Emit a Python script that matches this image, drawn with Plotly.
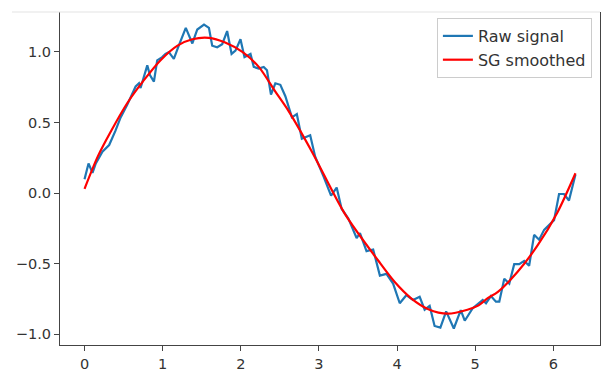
import plotly.graph_objects as go

# Raw signal
raw_x = [0.0, 0.051, 0.102, 0.144, 0.229, 0.315, 0.395, 0.462, 0.548, 0.654, 0.697, 0.717,
         0.803, 0.837, 0.888, 0.930, 0.994, 1.036, 1.079, 1.143, 1.206, 1.296, 1.380, 1.443,
         1.529, 1.592, 1.634, 1.698, 1.762, 1.825, 1.882, 1.932, 1.996, 2.047, 2.124, 2.166,
         2.229, 2.293, 2.335, 2.386, 2.442, 2.506, 2.570, 2.654, 2.717, 2.781, 2.888, 2.952,
         3.057, 3.155, 3.227, 3.290, 3.376, 3.482, 3.525, 3.609, 3.694, 3.780, 3.864, 3.949,
         4.034, 4.118, 4.204, 4.289, 4.353, 4.417, 4.480, 4.554, 4.628, 4.726, 4.815, 4.866,
         4.968, 5.032, 5.096, 5.138, 5.201, 5.265, 5.308, 5.372, 5.436, 5.499, 5.563, 5.627,
         5.690, 5.754, 5.818, 5.882, 5.945, 6.009, 6.073, 6.136, 6.200, 6.283]
raw_y = [0.097, 0.21, 0.143, 0.21, 0.293, 0.34, 0.44, 0.536, 0.628, 0.755, 0.778, 0.744,
         0.905, 0.836, 0.79, 0.94, 0.963, 0.986, 0.998, 0.951, 1.044, 1.171, 1.06, 1.159,
         1.194, 1.171, 1.044, 1.033, 1.055, 1.148, 0.986, 1.009, 1.09, 0.963, 0.986, 0.894,
         0.882, 0.894, 0.87, 0.697, 0.778, 0.767, 0.686, 0.536, 0.559, 0.385, 0.409, 0.258,
         0.12, -0.019, 0.039, -0.111, -0.18, -0.319, -0.284, -0.412, -0.4, -0.585, -0.573, -0.642,
         -0.781, -0.724, -0.758, -0.735, -0.827, -0.8, -0.942, -0.954, -0.839, -0.96, -0.83, -0.905,
         -0.816, -0.785, -0.758, -0.781, -0.73, -0.77, -0.77, -0.608, -0.642, -0.504, -0.504, -0.481,
         -0.516, -0.296, -0.331, -0.261, -0.227, -0.192, -0.007, -0.007, -0.053, 0.132]

# Savitzky-Golay smoothed curve
sg_x = [0.0, 0.17, 0.34, 0.55, 0.76, 0.97, 1.19, 1.38, 1.59, 1.80, 2.02, 2.23, 2.44, 2.61,
        2.91, 3.33, 3.76, 3.97, 4.18, 4.40, 4.65, 4.90, 5.03, 5.16, 5.29, 5.54, 5.80, 6.05, 6.283]
sg_y = [0.03, 0.26, 0.44, 0.64, 0.80, 0.94, 1.045, 1.09, 1.10, 1.067, 1.0, 0.894, 0.72, 0.582,
        0.293, -0.146, -0.48, -0.631, -0.746, -0.823, -0.855, -0.827, -0.80, -0.745, -0.70,
        -0.56, -0.37, -0.14, 0.14]

x_ticks = [0, 1, 2, 3, 4, 5, 6]
y_ticks = [-1.0, -0.5, 0.0, 0.5, 1.0]
y_tick_text = ["\u22121.0", "\u22120.5", "0.0", "0.5", "1.0"]

fig = go.Figure()
fig.add_trace(go.Scatter(x=raw_x, y=raw_y, mode="lines", name="Raw signal",
                         line=dict(color="#1f77b4", width=2.2)))
fig.add_trace(go.Scatter(x=sg_x, y=sg_y, mode="lines", name="SG smoothed",
                         line=dict(color="#ff0000", width=2.2, shape="spline", smoothing=0.8)))

axis_font = dict(family="DejaVu Sans", size=14.5, color="#333333")
fig.update_layout(
    width=608, height=379,
    margin=dict(l=60, r=7, t=12, b=26),
    paper_bgcolor="white", plot_bgcolor="white",
    font=dict(family="DejaVu Sans", color="#333333"),
    showlegend=True,
    legend=dict(x=0.985, y=0.982, xanchor="right", yanchor="top",
                bgcolor="white", bordercolor="#cccccc", borderwidth=1,
                font=dict(family="DejaVu Sans", size=16, color="#333333"),
                tracegroupgap=0, itemwidth=30),
    xaxis=dict(range=[-0.314, 6.597], tickvals=x_ticks, ticktext=[str(v) for v in x_ticks],
               showgrid=False, zeroline=False, showline=True, linecolor="#444444", linewidth=1.2,
               ticks="outside", ticklen=5, tickcolor="#444444", tickfont=axis_font),
    yaxis=dict(range=[-1.077, 1.283], tickvals=y_ticks, ticktext=y_tick_text,
               showgrid=False, zeroline=False, showline=True, mirror=True,
               linecolor="#444444", linewidth=1.2,
               ticks="outside", ticklen=5, tickcolor="#444444", tickfont=axis_font),
)
fig.add_shape(type="line", xref="paper", yref="paper", x0=-0.089, x1=1.0, y0=1.0, y1=1.0,
              line=dict(color="#e3e3e3", width=1))

fig.write_html("out.html")
